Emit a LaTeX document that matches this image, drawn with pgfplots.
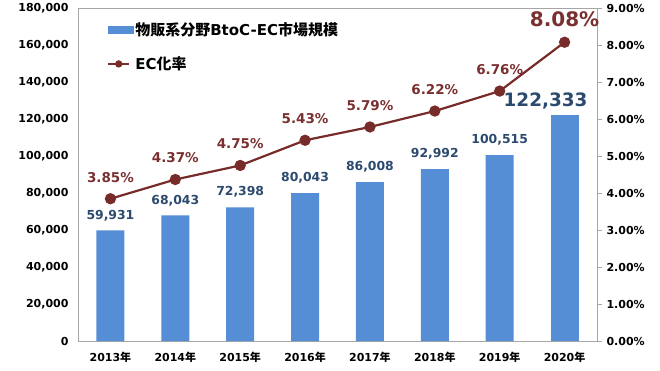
\documentclass[border=0pt]{standalone}
\usepackage{fontspec}
\usepackage{pgfplots}
\pgfplotsset{compat=1.18}
\setmainfont{DejaVu Sans}
\newfontfamily\cjk{Noto Sans CJK JP}
\definecolor{barblue}{HTML}{558ED5}
\definecolor{linered}{HTML}{772C2A}
\definecolor{lblblue}{HTML}{2C4A6E}
\definecolor{lblred}{HTML}{7A3030}
\definecolor{axgray}{HTML}{A6A6A6}
\begin{document}
\begin{tikzpicture}
\pgfplotsset{
  common/.style={scale only axis, width=519pt, height=333pt, xmin=-0.5, xmax=7.5,
    ticklabel style={font=\bfseries\fontsize{11}{13}\selectfont, text=black},
    /pgf/number format/assume math mode=true}
}
\begin{axis}[common, ymin=0, ymax=180000, ytick={0,20000,...,180000},
  scaled y ticks=false,
  yticklabel style={/pgf/number format/fixed, /pgf/number format/1000 sep={,}, xshift=-6pt},
  xtick={0,...,7},
  xticklabels={2013{\cjk 年},2014{\cjk 年},2015{\cjk 年},2016{\cjk 年},2017{\cjk 年},2018{\cjk 年},2019{\cjk 年},2020{\cjk 年}},
  axis line style={axgray}, tick style={draw=none},
  xticklabel style={yshift=-3pt},
  ybar, bar width=28pt]
\addplot[ybar, bar shift=0pt, fill=barblue, draw=none, point meta=y,
  nodes near coords={\pgfmathprintnumber[fixed,precision=0,1000 sep={,}]{\pgfplotspointmeta}},
  every node near coord/.append style={font=\bfseries\fontsize{12.4}{14}\selectfont, text=lblblue, yshift=6pt}]
  coordinates {(0,59931) (1,68043) (2,72398) (3,80043) (4,86008) (5,92992) (6,100515)};
\addplot[ybar, bar shift=0pt, fill=barblue, draw=none, point meta=y,
  nodes near coords={\pgfmathprintnumber[fixed,precision=0,1000 sep={,}]{\pgfplotspointmeta}},
  every node near coord/.append style={font=\bfseries\fontsize{18.4}{20}\selectfont, text=lblblue, yshift=2pt, xshift=-19pt}]
  coordinates {(7,122333)};
\end{axis}
\begin{axis}[common, ymin=0, ymax=9, ytick={0,...,9},
  yticklabels={0.00\%,1.00\%,2.00\%,3.00\%,4.00\%,5.00\%,6.00\%,7.00\%,8.00\%,9.00\%},
  axis x line=none, axis y line*=right, axis line style={axgray},
  ytick style={axgray}, tick align=outside, major tick length=5pt,
  yticklabel style={xshift=1pt},
  legend style={at={(0.05,0.97)}, anchor=north west, draw=none, fill=none,
    font=\bfseries\fontsize{15}{17}\selectfont, row sep=16pt, text=black},
  legend cell align=left]
\addlegendimage{legend image code/.code={\fill[barblue] (0cm,-0.11cm) rectangle (0.88cm,0.13cm);}}
\addlegendentry{{\cjk 物販系分野}BtoC-EC{\cjk 市場規模}}
\addplot[linered, line width=2.2pt, mark=*, mark size=4.5pt, mark options={fill=linered, draw=linered},
  legend image code/.code={\draw[linered, line width=1.8pt] (0cm,0cm) -- (0.75cm,0cm); \fill[linered] (0.375cm,0cm) circle (2.5pt);}]
  coordinates {(0,3.85) (1,4.37) (2,4.75) (3,5.43) (4,5.79) (5,6.22) (6,6.76) (7,8.08)};
\addlegendentry{EC{\cjk 化率}}
\addplot[forget plot, draw=none, mark=none, point meta=y,
  nodes near coords={\pgfmathprintnumber[fixed,fixed zerofill,precision=2]{\pgfplotspointmeta}\%},
  every node near coord/.append style={font=\bfseries\fontsize{13.5}{15}\selectfont, text=lblred, yshift=13pt}]
  coordinates {(0,3.85) (1,4.37) (2,4.75) (3,5.43) (4,5.79) (5,6.22) (6,6.76)};
\addplot[forget plot, draw=none, mark=none, point meta=y,
  nodes near coords={\pgfmathprintnumber[fixed,fixed zerofill,precision=2]{\pgfplotspointmeta}\%},
  every node near coord/.append style={font=\bfseries\fontsize{20}{22}\selectfont, text=lblred, yshift=12pt}]
  coordinates {(7,8.08)};
\end{axis}
\path (current axis.south west) ++(-78pt,-29pt) rectangle ++(660pt,370pt);
\end{tikzpicture}
\end{document}
